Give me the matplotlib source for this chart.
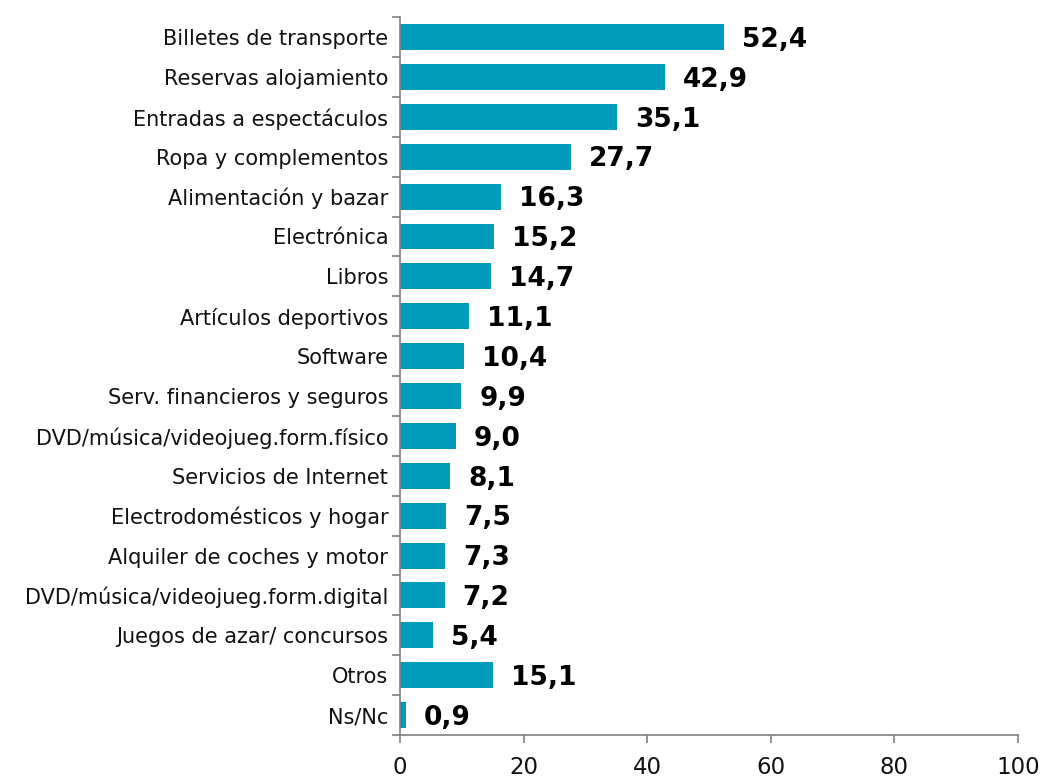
import numpy as np
import matplotlib
matplotlib.use("Agg")
import matplotlib.pyplot as plt

categories = [
    "Billetes de transporte", "Reservas alojamiento", "Entradas a espectáculos",
    "Ropa y complementos", "Alimentación y bazar", "Electrónica", "Libros",
    "Artículos deportivos", "Software", "Serv. financieros y seguros",
    "DVD/música/videojueg.form.físico", "Servicios de Internet",
    "Electrodomésticos y hogar", "Alquiler de coches y motor",
    "DVD/música/videojueg.form.digital", "Juegos de azar/ concursos",
    "Otros", "Ns/Nc",
]
values = [52.4, 42.9, 35.1, 27.7, 16.3, 15.2, 14.7, 11.1, 10.4, 9.9,
          9.0, 8.1, 7.5, 7.3, 7.2, 5.4, 15.1, 0.9]
xticks = [0, 20, 40, 60, 80, 100]

plt.rcParams['font.family'] = ['DejaVu Sans']
fig = plt.figure(figsize=(10.45, 7.77), dpi=100)
ax = fig.add_axes([0.3828, 0.054, 0.974 - 0.3828, 0.978 - 0.054])

n = len(categories)
y = np.arange(n)
ax.barh(y, values, height=0.65, color="#009ABB", zorder=2)
for yi, v in zip(y, values):
    ax.annotate(f"{v:.1f}".replace(".", ","), (v, yi), xytext=(13, -2),
                textcoords="offset points", va="center", ha="left",
                fontsize=19, fontweight="bold")

ax.set_ylim(n - 0.5, -0.5)
ax.set_xlim(0, 100)
ax.set_yticks(np.arange(n + 1) - 0.5)
ax.set_yticklabels([])
ax.set_yticks(y, minor=True)
ax.set_yticklabels(categories, minor=True, fontsize=15, color="#111111")
ax.tick_params(axis="y", which="minor", length=0, pad=8.5)
ax.tick_params(axis="y", which="major", length=6, color="#808080", width=1.2)
ax.set_xticks(xticks)
ax.set_xticklabels([str(t) for t in xticks], fontsize=16.5, color="#111111")
ax.tick_params(axis="x", length=6, color="#808080", width=1.2, pad=9)

for s in ["top", "right"]:
    ax.spines[s].set_visible(False)
for s in ["left", "bottom"]:
    ax.spines[s].set_color("#808080")
    ax.spines[s].set_linewidth(1.2)

fig.savefig("out.png", dpi=100)
